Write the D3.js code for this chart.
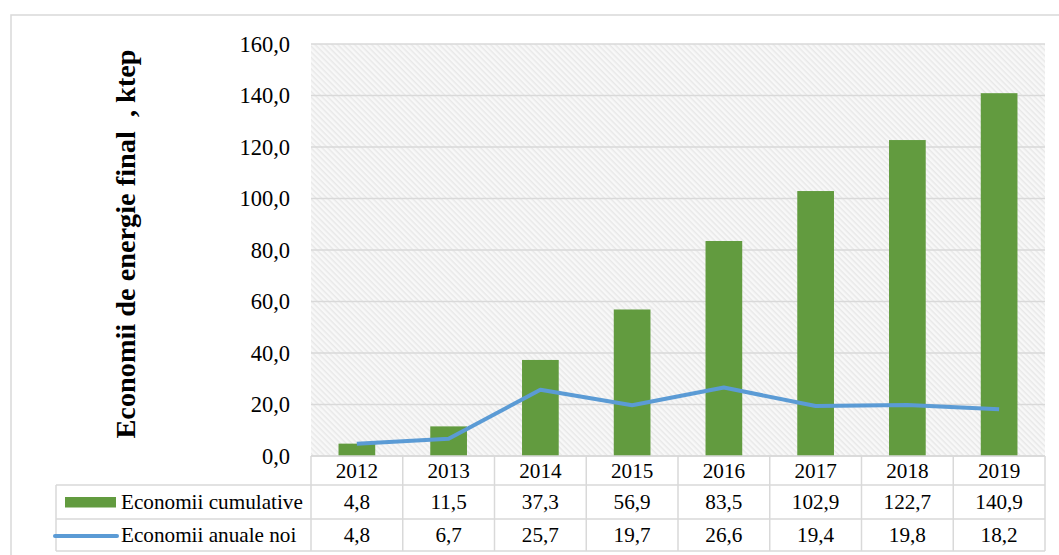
<!DOCTYPE html>
<html>
<head>
<meta charset="utf-8">
<script src="https://cdn.jsdelivr.net/npm/d3@7"></script>
<style>
  body { margin: 0; background: #fff; }
  svg { display: block; }
  svg text { font-family: "Liberation Serif", "Times New Roman", serif !important; fill: #000; }
</style>
</head>
<body>
<svg id="chart" width="1059" height="555"></svg>
<script>
// data
const years = ["2012", "2013", "2014", "2015", "2016", "2017", "2018", "2019"];
const cumulative = [4.8, 11.5, 37.3, 56.9, 83.5, 102.9, 122.7, 140.9];
const annual = [4.8, 6.7, 25.7, 19.7, 26.6, 19.4, 19.8, 18.2];
const yTicks = [0, 20, 40, 60, 80, 100, 120, 140, 160];
const seriesNames = ["Economii cumulative", "Economii anuale noi"];
const yTitle = "Economii de energie final  , ktep";

const green = "#629B3F";
const blue = "#5B9BD5";
const grid = "#D9D9D9";
const tableFont = 21.2;

const fmt = v => v.toFixed(1).replace(".", ",");

const svg = d3.select("#chart");

// outer chart frame
svg.append("rect")
    .attr("x", 11).attr("y", 15)
    .attr("width", 1060).attr("height", 560)
    .attr("fill", "#fff")
    .attr("stroke", grid)
    .attr("stroke-width", 1.5);

// hatch pattern for plot background
const defs = svg.append("defs");
const pat = defs.append("pattern")
    .attr("id", "hatch")
    .attr("patternUnits", "userSpaceOnUse")
    .attr("width", 4).attr("height", 4)
    .attr("patternTransform", "rotate(45)");
pat.append("rect").attr("width", 4).attr("height", 4).attr("fill", "#F8F8F8");
pat.append("rect").attr("width", 4).attr("height", 1.5).attr("fill", "#E8E8E8");

const plotL = 311, plotR = 1045, plotT = 44, plotB = 456;

const x = d3.scaleBand()
    .domain(years)
    .range([plotL, plotR])
    .paddingInner(0)
    .paddingOuter(0);

const y = d3.scaleLinear()
    .domain([0, 160])
    .range([plotB, plotT]);

svg.append("rect")
    .attr("x", plotL).attr("y", plotT)
    .attr("width", plotR - plotL).attr("height", plotB - plotT)
    .attr("fill", "url(#hatch)");

// gridlines
svg.append("g")
    .selectAll("line")
    .data(yTicks)
    .join("line")
    .attr("x1", plotL).attr("x2", plotR)
    .attr("y1", d => y(d)).attr("y2", d => y(d))
    .attr("stroke", grid)
    .attr("stroke-width", 1.5);

// y axis labels
const yAxis = d3.axisLeft(y)
    .tickValues(yTicks)
    .tickFormat(fmt)
    .tickSize(0)
    .tickPadding(21);
const gy = svg.append("g")
    .attr("transform", `translate(${plotL},0)`)
    .call(yAxis);
gy.select(".domain").remove();
gy.selectAll("text")
    .attr("font-size", 22.5);

// y title
svg.append("text")
    .attr("transform", "translate(135,244) rotate(-90)")
    .attr("text-anchor", "middle")
    .attr("font-size", 28.3)
    .attr("font-weight", "bold")
    .style("white-space", "pre")
    .text(yTitle);

// bars
const barW = x.bandwidth() * 0.4;
svg.append("g")
    .selectAll("rect")
    .data(cumulative)
    .join("rect")
    .attr("x", (d, i) => x(years[i]) + (x.bandwidth() - barW) / 2)
    .attr("y", d => y(d))
    .attr("width", barW)
    .attr("height", d => y(0) - y(d))
    .attr("fill", green);

// line
const line = d3.line()
    .x((d, i) => x(years[i]) + x.bandwidth() / 2)
    .y(d => y(d));
svg.append("path")
    .datum(annual)
    .attr("d", line)
    .attr("fill", "none")
    .attr("stroke", blue)
    .attr("stroke-width", 4)
    .attr("stroke-linejoin", "round");

// data table
const rowY = [456, 485, 519, 551];
const tableLeft = 56;
const tg = svg.append("g");

// horizontal lines
tg.append("line")
    .attr("x1", plotL).attr("x2", plotR)
    .attr("y1", rowY[0]).attr("y2", rowY[0])
    .attr("stroke", grid).attr("stroke-width", 1.5);
[rowY[1], rowY[2], rowY[3]].forEach(yy => {
  tg.append("line")
      .attr("x1", tableLeft).attr("x2", plotR)
      .attr("y1", yy).attr("y2", yy)
      .attr("stroke", grid).attr("stroke-width", 1.5);
});
// vertical lines
tg.append("line")
    .attr("x1", tableLeft).attr("x2", tableLeft)
    .attr("y1", rowY[1]).attr("y2", rowY[3])
    .attr("stroke", grid).attr("stroke-width", 1.5);
years.forEach(yr => {
  tg.append("line")
      .attr("x1", x(yr)).attr("x2", x(yr))
      .attr("y1", rowY[0]).attr("y2", rowY[3])
      .attr("stroke", grid).attr("stroke-width", 1.5);
});
tg.append("line")
    .attr("x1", plotR).attr("x2", plotR)
    .attr("y1", rowY[0]).attr("y2", rowY[3])
    .attr("stroke", grid).attr("stroke-width", 1.5);

// header years
tg.selectAll("text.yr")
    .data(years)
    .join("text")
    .attr("class", "yr")
    .attr("x", d => x(d) + x.bandwidth() / 2)
    .attr("y", (rowY[0] + rowY[1]) / 2)
    .attr("dy", "0.35em")
    .attr("text-anchor", "middle")
    .attr("font-size", tableFont)
    .text(d => d);

[cumulative, annual].forEach((vals, r) => {
  tg.selectAll("text.v" + r)
      .data(vals)
      .join("text")
      .attr("class", "v" + r)
      .attr("x", (d, i) => x(years[i]) + x.bandwidth() / 2)
      .attr("y", (rowY[r + 1] + rowY[r + 2]) / 2)
      .attr("dy", "0.35em")
      .attr("text-anchor", "middle")
      .attr("font-size", tableFont)
      .text(d => fmt(d));
});

// legend keys
tg.append("rect")
    .attr("x", 65).attr("y", 497)
    .attr("width", 51).attr("height", 10.5)
    .attr("fill", green);
tg.append("line")
    .attr("x1", 55).attr("x2", 117)
    .attr("y1", 536).attr("y2", 536)
    .attr("stroke", blue).attr("stroke-width", 4)
    .attr("stroke-linecap", "round");

tg.selectAll("text.leg")
    .data(seriesNames)
    .join("text")
    .attr("class", "leg")
    .attr("x", 121)
    .attr("y", (d, i) => (rowY[i + 1] + rowY[i + 2]) / 2)
    .attr("dy", "0.35em")
    .attr("font-size", tableFont)
    .text(d => d);
</script>
</body>
</html>
